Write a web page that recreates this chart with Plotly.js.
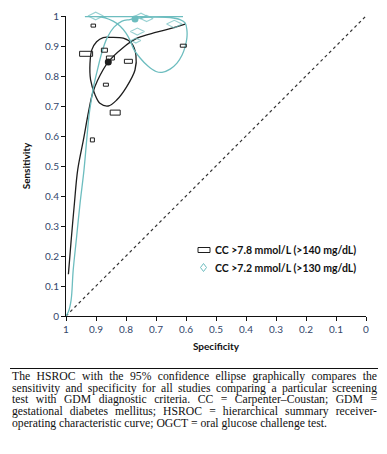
<!DOCTYPE html>
<html>
<head>
<meta charset="utf-8">
<script src="https://cdn.plot.ly/plotly-3.0.1.min.js"></script>
<style>
  html, body { margin: 0; padding: 0; background: #fff; }
  #wrap { position: relative; width: 387px; height: 454px; overflow: hidden; }
  #chart { position: absolute; left: 0; top: 0; width: 387px; height: 454px; }
  #rule { position: absolute; left: 10px; width: 368px; top: 368px; height: 0; border-top: 1px solid #111; }
  #caption { position: absolute; left: 12px; width: 365px; top: 371px;
    font-family: "Liberation Serif", "Times New Roman", serif; font-size: 11.7px; line-height: 11.7px; color: #111; }
  #caption div { white-space: nowrap; text-align: justify; text-align-last: justify; height: 11.7px; }
  #caption div.last { text-align-last: left; }
</style>
</head>
<body>
<div id="wrap">
  <div id="chart"></div>
  <div id="rule"></div>
  <div id="caption">
    <div>The HSROC with the 95% confidence ellipse graphically compares the</div>
    <div>sensitivity and specificity for all studies comparing a particular screening</div>
    <div>test with GDM diagnostic criteria. CC = Carpenter–Coustan; GDM =</div>
    <div>gestational diabetes mellitus; HSROC = hierarchical summary receiver-</div>
    <div class="last">operating characteristic curve; OGCT = oral glucose challenge test.</div>
  </div>
</div>
<script>
// ---- Data (specificity, sensitivity) ----
const seriesNames = ["CC >7.8 mmol/L (>140 mg/dL)", "CC >7.2 mmol/L (>130 mg/dL)"];

// CC >7.8 study estimates
const cc78Spec = [0.909, 0.933, 0.872, 0.852, 0.792, 0.867, 0.836, 0.912, 0.609];
const cc78Sens = [0.968, 0.874, 0.886, 0.860, 0.849, 0.771, 0.678, 0.587, 0.901];
// CC >7.8 summary point
const cc78SumSpec = [0.859];
const cc78SumSens = [0.847];
// CC >7.8 HSROC curve
const cc78CurveSpec = [0.992, 0.983, 0.972, 0.961, 0.942, 0.925, 0.912, 0.895, 0.859, 0.813, 0.763, 0.698, 0.653, 0.603];
const cc78CurveSens = [0.139, 0.250, 0.375, 0.487, 0.587, 0.680, 0.740, 0.785, 0.847, 0.892, 0.926, 0.946, 0.958, 0.973];
// CC >7.8 95% confidence ellipse
const cc78EllSpec = [0.853, 0.809, 0.781, 0.767, 0.770, 0.798, 0.831, 0.859, 0.887, 0.903, 0.918, 0.920, 0.914, 0.898, 0.876, 0.853];
const cc78EllSens = [0.929, 0.926, 0.909, 0.870, 0.820, 0.764, 0.720, 0.700, 0.709, 0.737, 0.787, 0.842, 0.887, 0.914, 0.928, 0.929];

// CC >7.2 study estimates
const cc72Spec = [0.901, 0.750, 0.731, 0.639, 0.762, 0.767];
const cc72Sens = [1.000, 1.000, 0.992, 0.973, 0.948, 0.918];
// CC >7.2 summary point
const cc72SumSpec = [0.770];
const cc72SumSens = [0.990];
// CC >7.2 HSROC curve
const cc72CurveSpec = [1.000, 0.992, 0.983, 0.976, 0.965, 0.953, 0.940, 0.931, 0.923, 0.913, 0.907, 0.897, 0.880, 0.863, 0.840, 0.813, 0.787, 0.767, 0.720, 0.670, 0.610];
const cc72CurveSens = [0.000, 0.014, 0.053, 0.153, 0.260, 0.377, 0.487, 0.587, 0.670, 0.737, 0.770, 0.813, 0.880, 0.927, 0.963, 0.983, 0.988, 0.992, 0.996, 0.998, 0.998];
// CC >7.2 95% confidence ellipse
const cc72EllSpec = [0.937, 0.900, 0.853, 0.770, 0.703, 0.653, 0.620, 0.603, 0.597, 0.597, 0.603, 0.613, 0.630, 0.653, 0.680, 0.700, 0.727, 0.753, 0.773, 0.787, 0.800, 0.820, 0.843, 0.870, 0.900, 0.937];
const cc72EllSens = [0.998, 0.998, 0.998, 0.998, 0.997, 0.995, 0.988, 0.977, 0.953, 0.927, 0.897, 0.870, 0.843, 0.823, 0.812, 0.815, 0.833, 0.860, 0.887, 0.920, 0.943, 0.967, 0.983, 0.994, 0.998, 0.998];

// Chance line
const chanceSpec = [1, 0];
const chanceSens = [0, 1];

// Axis ticks
const tickVals = [1, 0.9, 0.8, 0.7, 0.6, 0.5, 0.4, 0.3, 0.2, 0.1, 0];
const tickText = ["1", "0.9", "0.8", "0.7", "0.6", "0.5", "0.4", "0.3", "0.2", "0.1", "0"];

// ---- Styles ----
const BLACK = "#1e1e1e";
const TEAL = "#6dbdbf";
const TICKCOL = "#34466a";
const FONT = "Lato, 'Open Sans', sans-serif";

// box sizes in pixels (study weights, width/height)
const boxW = [4.5, 13, 6, 8, 8, 5, 10, 4, 6];
const boxH = [3, 5, 4, 4, 4, 3, 5, 4, 3];
const diaSize = [11, 8, 9, 11, 10, 7];

const traces = [
  { x: chanceSpec, y: chanceSens, mode: "lines", line: { color: "#333", width: 1.2, dash: "dot" }, hoverinfo: "skip", showlegend: false },
  { x: cc78CurveSpec, y: cc78CurveSens, mode: "lines", line: { color: BLACK, width: 1.3, shape: "spline", smoothing: 1 }, showlegend: false },
  { x: cc78EllSpec, y: cc78EllSens, mode: "lines", line: { color: BLACK, width: 1.3, shape: "spline", smoothing: 1 }, showlegend: false },
  { x: cc72CurveSpec, y: cc72CurveSens, mode: "lines", line: { color: TEAL, width: 1.3, shape: "spline", smoothing: 1 }, showlegend: false },
  { x: cc72EllSpec, y: cc72EllSens, mode: "lines", line: { color: TEAL, width: 1.3, shape: "spline", smoothing: 1 }, showlegend: false, cliponaxis: false },
  { x: cc72Spec, y: cc72Sens, mode: "markers", cliponaxis: false,
    marker: { symbol: "diamond-wide-open", size: diaSize, color: TEAL, line: { width: 1.1, color: TEAL } }, showlegend: false, name: seriesNames[1] },
  { x: cc78SumSpec, y: cc78SumSens, mode: "markers", marker: { symbol: "circle", size: 7, color: BLACK }, showlegend: false },
  { x: cc72SumSpec, y: cc72SumSens, mode: "markers", cliponaxis: false, marker: { symbol: "circle", size: 7, color: TEAL }, showlegend: false }
];

const shapes = cc78Spec.map((s, i) => ({
  type: "rect", xref: "x", yref: "y", xsizemode: "pixel", ysizemode: "pixel",
  xanchor: s, yanchor: cc78Sens[i],
  x0: -boxW[i] / 2, x1: boxW[i] / 2, y0: -boxH[i] / 2, y1: boxH[i] / 2,
  line: { color: BLACK, width: 1 }, fillcolor: "rgba(0,0,0,0)", layer: "above"
}));

// Legend (drawn by hand to keep the rectangular study symbol)
shapes.push({
  type: "rect", xref: "paper", yref: "paper", xsizemode: "pixel", ysizemode: "pixel",
  xanchor: (204 - 66) / 300, yanchor: (316 - 250) / 300,
  x0: -6, x1: 6, y0: -2.5, y1: 2.5, line: { color: BLACK, width: 1 }, fillcolor: "rgba(0,0,0,0)"
});
shapes.push({
  type: "path", xref: "paper", yref: "paper", xsizemode: "pixel", ysizemode: "pixel",
  xanchor: (203.5 - 66) / 300, yanchor: (316 - 267.5) / 300,
  path: "M 0 4 L 3 0 L 0 -4 L -3 0 Z", line: { color: TEAL, width: 1 }, fillcolor: "rgba(0,0,0,0)"
});

const annotations = [
  { xref: "paper", yref: "paper", x: (213 - 66) / 300, y: (316 - 249.5) / 300, xanchor: "left", yanchor: "middle",
    text: "<b>" + seriesNames[0] + "</b>", showarrow: false, font: { family: FONT, size: 10.5, color: "#111" } },
  { xref: "paper", yref: "paper", x: (213 - 66) / 300, y: (316 - 267.5) / 300, xanchor: "left", yanchor: "middle",
    text: "<b>" + seriesNames[1] + "</b>", showarrow: false, font: { family: FONT, size: 10.5, color: "#111" } }
];

const axisCommon = {
  showgrid: false, zeroline: false, showline: true, linecolor: "#111", linewidth: 1,
  ticks: "outside", ticklen: 4, tickwidth: 1, tickcolor: "#111",
  tickfont: { family: FONT, size: 10, color: TICKCOL },
  tickvals: tickVals, ticktext: tickText, fixedrange: true
};

const layout = {
  width: 387, height: 454,
  margin: { l: 66, r: 21, t: 16, b: 138 },
  paper_bgcolor: "#fff", plot_bgcolor: "#fff",
  showlegend: false,
  xaxis: Object.assign({}, axisCommon, { range: [1, 0], automargin: false,
    title: { text: "<b>Specificity</b>", font: { family: FONT, size: 10, color: "#111" }, standoff: 8 } }),
  yaxis: Object.assign({}, axisCommon, { range: [0, 1], automargin: false,
    title: { text: "<b>Sensitivity</b>", font: { family: FONT, size: 10, color: "#111" }, standoff: 12 } }),
  shapes: shapes,
  annotations: annotations
};

Plotly.newPlot("chart", traces, layout, { displayModeBar: false, staticPlot: true });
</script>
</body>
</html>
